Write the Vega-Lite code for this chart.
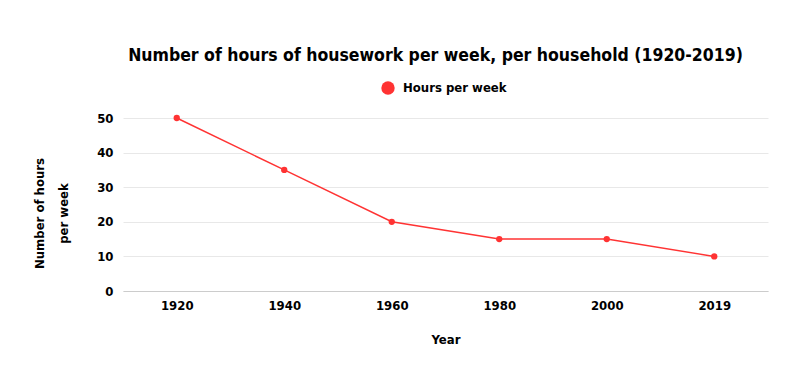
{
  "$schema": "https://vega.github.io/schema/vega-lite/v6.json",
  "width": 645,
  "height": 173,
  "autosize": "none",
  "padding": {"left": 123, "top": 118, "right": 32, "bottom": 88},
  "background": "white",
  "title": {
    "text": "Number of hours of housework per week, per household (1920-2019)",
    "font": "DejaVu Sans Condensed",
    "fontSize": 17.5,
    "fontWeight": "bold",
    "color": "#000000",
    "anchor": "middle",
    "dx": -10,
    "offset": 17
  },
  "config": {
    "view": {"stroke": null},
    "font": "DejaVu Sans Condensed"
  },
  "data": {
    "values": [
      {"Year": "1920", "Hours": 50, "Series": "Hours per week"},
      {"Year": "1940", "Hours": 35, "Series": "Hours per week"},
      {"Year": "1960", "Hours": 20, "Series": "Hours per week"},
      {"Year": "1980", "Hours": 15, "Series": "Hours per week"},
      {"Year": "2000", "Hours": 15, "Series": "Hours per week"},
      {"Year": "2019", "Hours": 10, "Series": "Hours per week"}
    ]
  },
  "encoding": {
    "x": {
      "field": "Year",
      "type": "ordinal",
      "scale": {"type": "point", "padding": 0.5},
      "axis": {
        "title": "Year",
        "labelAngle": 0,
        "labelFont": "DejaVu Sans Condensed",
        "labelFontSize": 13,
        "labelFontWeight": "bold",
        "labelColor": "#000000",
        "labelPadding": 8,
        "ticks": false,
        "domainColor": "#cccccc",
        "domainWidth": 1,
        "titleFont": "DejaVu Sans Condensed",
        "titleFontSize": 13,
        "titleFontWeight": "bold",
        "titleColor": "#000000",
        "titlePadding": 21
      }
    },
    "y": {
      "field": "Hours",
      "type": "quantitative",
      "scale": {"domain": [0, 50]},
      "axis": {
        "title": ["Number of hours", "per week"],
        "values": [0, 10, 20, 30, 40, 50],
        "labelFont": "DejaVu Sans Condensed",
        "labelFontSize": 13,
        "labelFontWeight": "bold",
        "labelColor": "#000000",
        "labelPadding": 10,
        "ticks": false,
        "domain": false,
        "gridColor": "#e8e8e8",
        "titleFont": "DejaVu Sans Condensed",
        "titleFontSize": 13,
        "titleFontWeight": "bold",
        "titleColor": "#000000",
        "titleAlign": "center",
        "titlePadding": 26,
        "titleLineHeight": 24,
        "titleY": 95
      }
    },
    "color": {
      "field": "Series",
      "type": "nominal",
      "scale": {"range": ["#ff3333"]},
      "legend": {
        "title": null,
        "orient": "none",
        "legendX": 258,
        "legendY": -37,
        "direction": "horizontal",
        "symbolType": "circle",
        "symbolSize": 180,
        "symbolFillColor": "#ff3333",
        "symbolStrokeWidth": 0,
        "labelFont": "DejaVu Sans Condensed",
        "labelFontSize": 13,
        "labelFontWeight": "bold",
        "labelColor": "#000000",
        "labelOffset": 8
      }
    }
  },
  "layer": [
    {"mark": {"type": "line", "strokeWidth": 1.5}},
    {"mark": {"type": "point", "filled": true, "size": 40, "opacity": 1}}
  ]
}
